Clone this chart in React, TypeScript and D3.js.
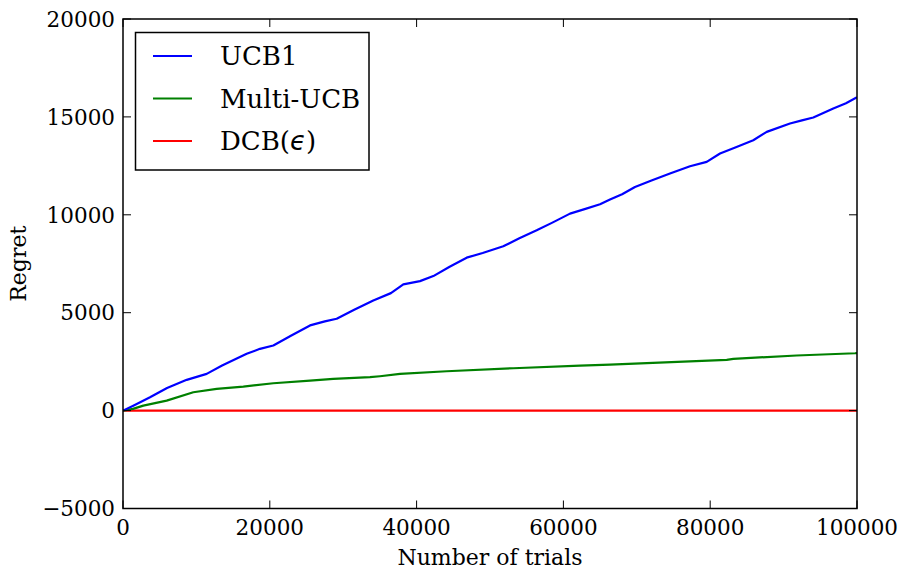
import React from "react";
import * as d3 from "d3";

const ucbTrials = [0, 1400, 3680, 6000, 8680, 11400, 13500, 16850, 18660, 20480, 23000, 25480, 27500, 29110, 31500, 34100, 36500, 38190, 40460, 42280, 44500, 46820, 49000, 51810, 54000, 56360, 58500, 60900, 63000, 64990, 66350, 68000, 69750, 72000, 74520, 77250, 79520, 81340, 83500, 85870, 87700, 90870, 92500, 94050, 96770, 98500, 100000];
const ucbRegret = [0, 250, 680, 1150, 1570, 1877, 2300, 2900, 3155, 3325, 3850, 4350, 4560, 4690, 5150, 5627, 6000, 6445, 6614, 6870, 7350, 7810, 8050, 8390, 8800, 9207, 9600, 10060, 10300, 10537, 10776, 11050, 11420, 11750, 12107, 12480, 12700, 13130, 13450, 13810, 14235, 14665, 14820, 14970, 15430, 15700, 16000];

const multiTrials = [0, 1360, 2770, 5950, 9580, 12760, 16390, 20480, 25480, 28650, 33650, 35010, 37740, 44100, 53180, 62260, 66350, 71350, 82250, 83150, 91770, 99730, 100000];
const multiRegret = [0, 87, 255, 511, 937, 1108, 1227, 1397, 1535, 1620, 1705, 1755, 1877, 2010, 2164, 2300, 2353, 2420, 2593, 2644, 2813, 2930, 2940];

const dcbTrials = [0, 100000];
const dcbRegret = [0, 0];

const xTicks = [0, 20000, 40000, 60000, 80000, 100000];
const yTicks = [-5000, 0, 5000, 10000, 15000, 20000];

const seriesNames = ["UCB1", "Multi-UCB", "DCB"];
const seriesColors = ["#0000ff", "#008000", "#ff0000"];

const W = 904;
const H = 571;
const L = 123, R = 857, T = 19, B = 508.5;
const FONT = "'DejaVu Serif', serif";

export default function App() {
  const x = d3.scaleLinear().domain([0, 100000]).range([L, R]);
  const y = d3.scaleLinear().domain([-5000, 20000]).range([B, T]);
  const line = d3.line<[number, number]>().x(d => x(d[0])).y(d => y(d[1]));
  const series = [
    ucbTrials.map((t, i) => [t, ucbRegret[i]] as [number, number]),
    multiTrials.map((t, i) => [t, multiRegret[i]] as [number, number]),
    dcbTrials.map((t, i) => [t, dcbRegret[i]] as [number, number]),
  ];
  const fmt = (v: number) => (v < 0 ? "\u2212" + Math.abs(v) : String(v));
  const tickLen = 8;
  return (
    <svg width={W} height={H} style={{ position: "fixed", left: 0, top: 0, background: "#fff" }} fontFamily={FONT}>
      <rect x={0} y={0} width={W} height={H} fill="#fff" />
      <defs>
        <clipPath id="plot">
          <rect x={L} y={T} width={R - L} height={B - T} />
        </clipPath>
      </defs>
      <g clipPath="url(#plot)">
        {[2, 1, 0].map(i => (
          <path key={i} d={line(series[i]) || ""} fill="none" stroke={seriesColors[i]} strokeWidth={2.2} strokeLinejoin="round" />
        ))}
      </g>
      {xTicks.map(t => (
        <g key={"x" + t}>
          <line x1={x(t)} x2={x(t)} y1={B} y2={B - tickLen} stroke="#000" strokeWidth={1} />
          <line x1={x(t)} x2={x(t)} y1={T} y2={T + tickLen} stroke="#000" strokeWidth={1} />
          <text x={x(t)} y={535} fontSize={21.5} textAnchor="middle">{fmt(t)}</text>
        </g>
      ))}
      {yTicks.map(t => (
        <g key={"y" + t}>
          <line x1={L} x2={L + tickLen} y1={y(t)} y2={y(t)} stroke="#000" strokeWidth={1} />
          <line x1={R} x2={R - tickLen} y1={y(t)} y2={y(t)} stroke="#000" strokeWidth={1} />
          <text x={115} y={y(t)} dy="0.36em" fontSize={21.5} textAnchor="end">{fmt(t)}</text>
        </g>
      ))}
      <rect x={L} y={T} width={R - L} height={B - T} fill="none" stroke="#000" strokeWidth={1.5} />
      <text x={(L + R) / 2} y={565} fontSize={22} textAnchor="middle">Number of trials</text>
      <text transform={`translate(26,${(T + B) / 2}) rotate(-90)`} fontSize={22} textAnchor="middle">Regret</text>
      <g>
        <rect x={135.5} y={32.5} width={233.5} height={137.5} fill="#fff" stroke="#000" strokeWidth={1.5} />
        {seriesNames.map((n, i) => (
          <g key={n}>
            <line x1={153} x2={192} y1={56 + i * 42.5} y2={56 + i * 42.5} stroke={seriesColors[i]} strokeWidth={2.2} />
            <text x={220} y={65 + i * 42.5} fontSize={26}>
              {n}
              {i === 2 ? (
                <>
                  <tspan>(</tspan>
                  <tspan fontStyle="italic" fontFamily="'DejaVu Sans', sans-serif">{"\u03f5"}</tspan>
                  <tspan>)</tspan>
                </>
              ) : null}
            </text>
          </g>
        ))}
      </g>
    </svg>
  );
}
